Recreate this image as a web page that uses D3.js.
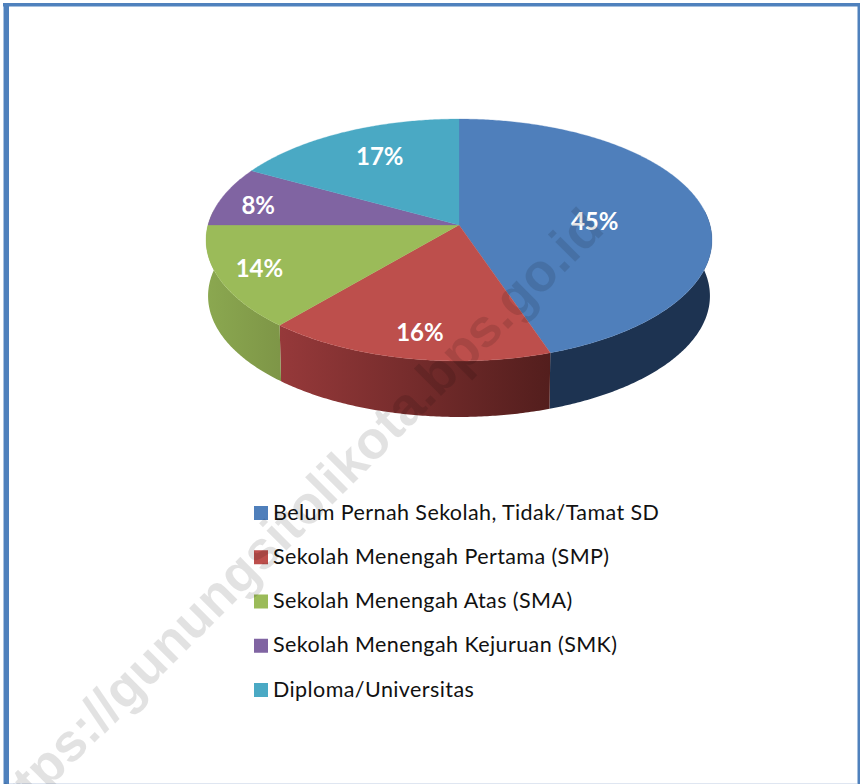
<!DOCTYPE html>
<html><head><meta charset="utf-8">
<script src="https://cdn.jsdelivr.net/npm/d3@7/dist/d3.min.js"></script>
<style>html,body{margin:0;padding:0;background:#fff}svg{display:block}</style>
</head><body><svg id="c" width="860" height="784"></svg>
<script>
const categories=["Belum Pernah Sekolah, Tidak/Tamat SD","Sekolah Menengah Pertama (SMP)","Sekolah Menengah Atas (SMA)","Sekolah Menengah Kejuruan (SMK)","Diploma/Universitas"];
const values=[44.8,16.4,13.8,8,17];
const topColors=["#4f7fbb","#bd4f4c","#9bbb59","#8064a2","#4aa9c4"];
const wallLeft=["#1d3351","#96393a","#8ba850","#6b5288","#3c8aa0"];
const wallRight=["#1d3351","#531e1d","#7e9647","#6b5288","#3c8aa0"];
const labelRadius=[0.55,0.79,0.83,0.83,0.7];
const labelShiftX=[1,2,-2,-4,4];
const labelShiftY=[7,5,0,5,-2];
const watermark="https://gunungsitolikota.bps.go.id";

const svg=d3.select("#c");
const W=860,H=784;
// frame
svg.append("rect").attr("x",3).attr("y",3).attr("width",1).attr("height",H).attr("fill","#a9c2e0");
svg.append("rect").attr("x",4).attr("y",3).attr("width",5).attr("height",H).attr("fill","#4f81bd");
svg.append("rect").attr("x",3).attr("y",3).attr("width",W).attr("height",3.5).attr("fill","#4f81bd");
svg.append("rect").attr("x",857.5).attr("y",3).attr("width",3).attr("height",H).attr("fill","#4f81bd");
svg.append("rect").attr("x",9).attr("y",783).attr("width",W-12).attr("height",1).attr("fill","#dfe6f1");

// perspective disc: unit circle -> screen, driven by D3 scales
const cx=459, cy=225, k=-0.124, depth=56;
const sx=d3.scaleLinear().domain([-1,1]).range([cx-251,cx+251]);
const sy=d3.scaleLinear().domain([-1,1]).range([cy-119.1,cy+119.1]);
const sxB=d3.scaleLinear().domain([-1,1]).range([cx-249,cx+249]);
function proj(a,r,xs,ys,dy){
  const u=Math.sin(a)*r, v=-Math.cos(a)*r, w=1+k*v;
  return [xs(u/w), ys(v/w)+dy];
}
const top3=(a,r=1)=>proj(a,r,sx,sy,0);
const bot3=(a)=>proj(a,1,sxB,sy,depth);
const pie=d3.pie().sort(null).value(d=>d)(values);
const line=d3.line();
const samples=(a0,a1)=>{const n=Math.max(2,Math.ceil((a1-a0)/0.01));return d3.range(n+1).map(i=>a0+(a1-a0)*i/n)};

const defs=svg.append("defs");
const rimR=Math.acos(-k), rimL=2*Math.PI-rimR;

// walls
const gWall=svg.append("g");
pie.forEach((s,i)=>{
  const a0=Math.max(s.startAngle,rimR);
  const a1=s.endAngle>=rimL-0.2?rimL:s.endAngle;
  if(a1<=a0||s.startAngle>=rimL-0.2)return;
  const t=samples(a0,a1).map(a=>top3(a));
  const b=samples(a0,a1).map(a=>bot3(a)).reverse();
  const xs=t.map(p=>p[0]);
  const id="wg"+i;
  const g=defs.append("linearGradient").attr("id",id).attr("gradientUnits","userSpaceOnUse")
    .attr("x1",d3.min(xs)).attr("x2",d3.max(xs)).attr("y1",0).attr("y2",0);
  g.append("stop").attr("offset",0).attr("stop-color",wallLeft[i]);
  g.append("stop").attr("offset",1).attr("stop-color",wallRight[i]);
  gWall.append("path").attr("d",line(t.concat(b))+"Z").attr("fill",`url(#${id})`);
});

// top
const gTop=svg.append("g");
pie.forEach((s,i)=>{
  const pts=[[cx,cy]].concat(samples(s.startAngle,s.endAngle).map(a=>top3(a)));
  gTop.append("path").attr("d",line(pts)+"Z").attr("fill",topColors[i]).attr("stroke",topColors[i]).attr("stroke-width",0.3);
});

// labels
const fam="Lato, 'Open Sans', sans-serif";
pie.forEach((s,i)=>{
  const p=top3((s.startAngle+s.endAngle)/2,labelRadius[i]);
  svg.append("text").attr("x",p[0]+labelShiftX[i]).attr("y",p[1]+labelShiftY[i]).attr("dy","0.35em")
    .attr("text-anchor","middle").attr("fill","#fff").attr("font-family",fam)
    .attr("font-weight",700).attr("font-size",24).text(Math.round(values[i])+"%");
});

// legend
const ly=d3.scalePoint().domain(categories).range([512,689]);
const lg=svg.append("g");
categories.forEach((c,i)=>{
  lg.append("rect").attr("x",254).attr("y",ly(c)-6).attr("width",14).attr("height",14).attr("fill",topColors[i]);
  lg.append("text").attr("x",273).attr("y",ly(c)).attr("dy","0.35em").attr("fill","#111")
    .attr("font-family",fam).attr("font-size",21.5).attr("letter-spacing",0.41).text(c);
});

// watermark
svg.append("text").attr("transform","translate(-1,838) rotate(-45)")
  .attr("font-family","'Liberation Sans', Arial, sans-serif").attr("font-size",53.3).attr("font-weight",700)
  .attr("fill","#000").attr("fill-opacity",0.115).text(watermark);
</script></body></html>
